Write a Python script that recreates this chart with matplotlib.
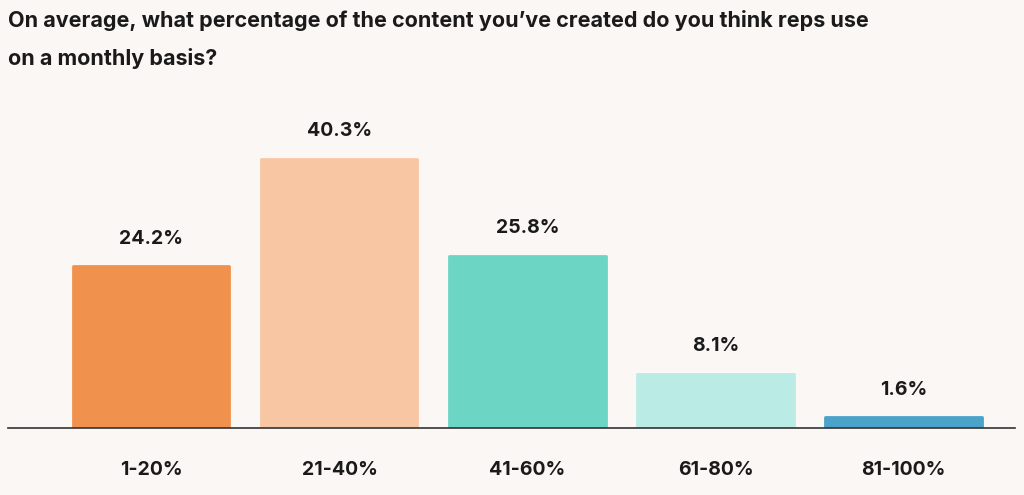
import matplotlib
matplotlib.use("Agg")
import matplotlib.pyplot as plt

categories = ["1-20%", "21-40%", "41-60%", "61-80%", "81-100%"]
values = [24.2, 40.3, 25.8, 8.1, 1.6]
labels = ["24.2%", "40.3%", "25.8%", "8.1%", "1.6%"]
colors = ["#F0924E", "#F8C6A2", "#6DD5C3", "#BAEBE4", "#4BA3C9"]
title = "On average, what percentage of the content you’ve created do you think reps use\non a monthly basis?"

bg = "#FAF7F5"
fig = plt.figure(figsize=(10.24, 4.95), dpi=100, facecolor=bg)
ax = fig.add_axes([8/1024, 1-428/495, (1015-8)/1024, 330/495], facecolor=bg)
x = range(len(categories))
ax.bar(x, values, width=0.83, color=colors, edgecolor=colors, linewidth=2, joinstyle="round")
for xi, v, l in zip(x, values, labels):
    ax.text(xi, v + 2.8, l, ha="center", va="bottom", fontsize=14, fontweight="bold",
            color="#1a1a1a", family="Inter")
ax.set_xlim(-0.763, 4.593)
ax.set_ylim(0, 49.4)
ax.set_yticks([])
ax.set_xticks(list(x))
ax.set_xticklabels(categories, fontsize=14, fontweight="bold", color="#1a1a1a", family="Inter")
ax.tick_params(axis="x", length=0, pad=24)
for s in ["top", "right", "left"]:
    ax.spines[s].set_visible(False)
ax.spines["bottom"].set_color("#333333")
ax.spines["bottom"].set_linewidth(1.2)
fig.text(8/1024, 1-10/495, title, ha="left", va="top", fontsize=15.5, fontweight="bold",
         color="#1a1a1a", family="Inter", linespacing=2.0)
fig.savefig("out.png", dpi=100, facecolor=bg)
